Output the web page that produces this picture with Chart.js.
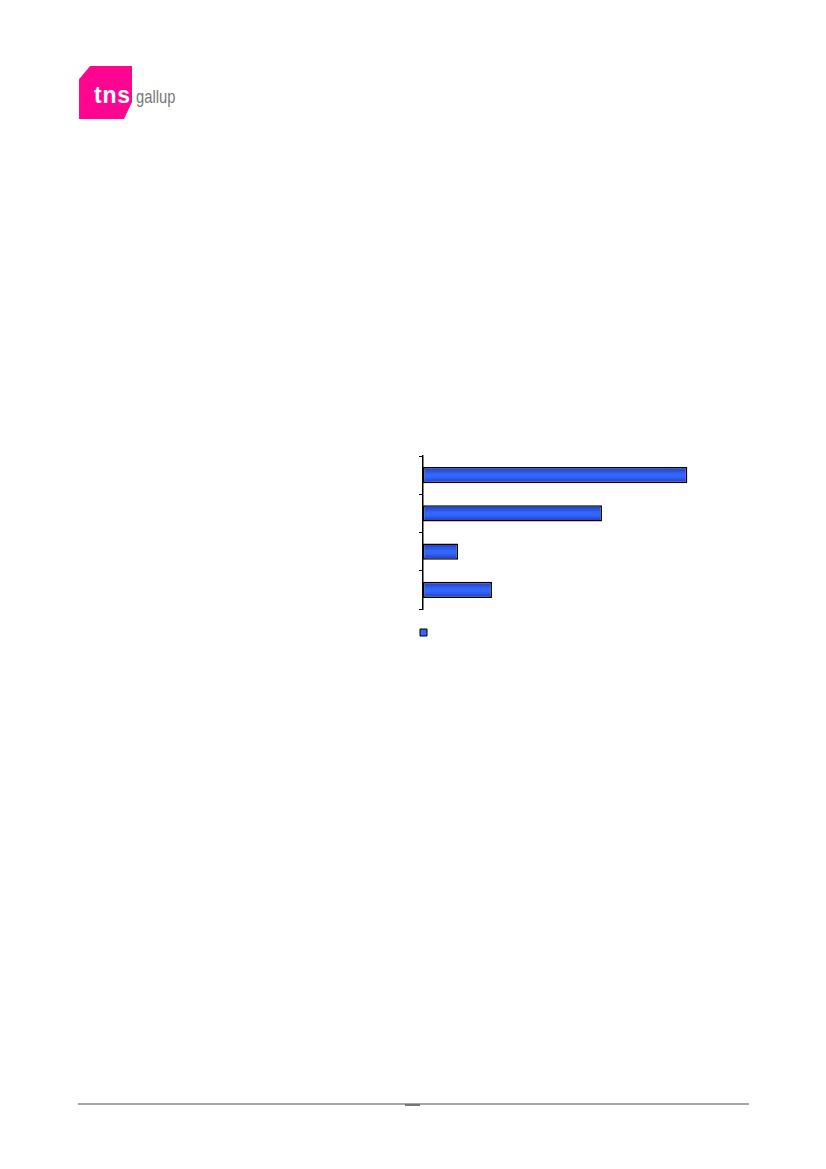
<!DOCTYPE html>
<html>
<head>
<meta charset="utf-8">
<script src="https://cdn.jsdelivr.net/npm/chart.js@4.4.1/dist/chart.umd.min.js"></script>
<style>
  body { margin: 0; background: #fff; font-family: "Liberation Sans", Arial, sans-serif; }
  .page { position: relative; width: 826px; height: 1169px; }
  .logo { position: absolute; left: 79px; top: 66px; width: 53px; height: 53px; background: #ff0590;
          clip-path: polygon(21% 0, 100% 0, 100% 68%, 85% 100%, 0 100%, 0 25%); }
  .tns { position: absolute; left: 94px; top: 84px; font: bold 23px/23px "Liberation Sans", Arial, sans-serif;
         color: #fff; letter-spacing: 0.8px; }
  .gallup { position: absolute; left: 136px; top: 88px; font: 18px/18px "Liberation Sans", sans-serif;
            color: #787878; transform: scaleX(0.82); transform-origin: 0 0; }
  #wrap { position: absolute; left: 400px; top: 440px; width: 340px; height: 206px; }
  .rule { position: absolute; left: 78px; top: 1103px; width: 671px; height: 2px; background: #a6a6a6; }
  .mark { position: absolute; left: 405px; top: 1104px; width: 15px; height: 2px; background: #777; }
</style>
</head>
<body>
<div class="page">
  <div class="logo"></div>
  <div class="tns">tns</div>
  <div class="gallup">gallup</div>
  <div id="wrap"><canvas id="chart"></canvas></div>
  <div class="rule"></div>
  <div class="mark"></div>
</div>
<script>
// values (share, %), top to bottom
const categories = ["A", "B", "C", "D"];
const shares = [48.3, 32.7, 6.4, 12.6];
const seriesName = "";

function barFill(c) {
    const chart = c.chart;
    if (!chart.chartArea || !chart.scales.y) return "#3366ff";
    const y = chart.scales.y.getPixelForValue(c.dataIndex);
    const g = chart.ctx.createLinearGradient(0, y - 8, 0, y + 8);
    g.addColorStop(0, "#1f3cb8");
    g.addColorStop(0.45, "#3366ff");
    g.addColorStop(0.6, "#3366ff");
    g.addColorStop(1, "#1f3cb8");
    return g;
}

new Chart(document.getElementById("chart"), {
    type: "bar",
    data: {
        labels: categories,
        datasets: [{
            label: seriesName,
            data: shares,
            backgroundColor: barFill,
            borderColor: "#000",
            borderWidth: 1.5,
            borderSkipped: false,
            barPercentage: 0.42,
            categoryPercentage: 1
        }]
    },
    options: {
        indexAxis: "y",
        responsive: true,
        maintainAspectRatio: false,
        animation: false,
        layout: { padding: { top: 16, right: 16, left: 0, bottom: 0 } },
        scales: {
            x: { display: false, min: 0, max: 55 },
            y: {
                afterFit: s => { s.width = 23; },
                grid: { drawOnChartArea: false, drawTicks: true, tickLength: 4, color: "#000", lineWidth: 1 },
                border: { color: "#000", width: 1.5 },
                ticks: { display: false }
            }
        },
        plugins: {
            legend: {
                position: "bottom",
                align: "start",
                labels: {
                    boxWidth: 7, boxHeight: 7, padding: 20,
                    font: { size: 7 },
                    generateLabels: ch => [{
                        text: seriesName, fillStyle: "#3366ff", strokeStyle: "#000",
                        lineWidth: 1, datasetIndex: 0
                    }]
                }
            },
            tooltip: { enabled: false }
        }
    }
});
</script>
</body>
</html>
